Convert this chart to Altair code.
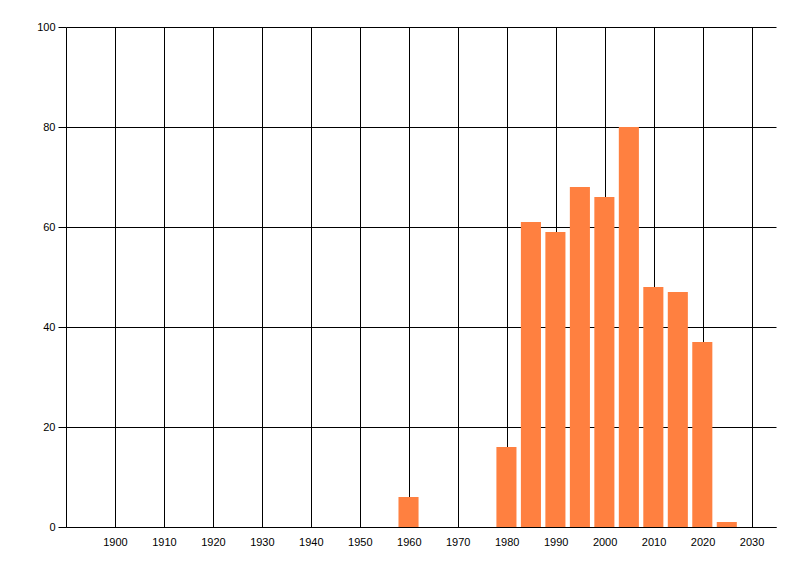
import altair as alt
import pandas as pd

years = [1960, 1980, 1985, 1990, 1995, 2000, 2005, 2010, 2015, 2020, 2025]
counts = [6, 16, 61, 59, 68, 66, 80, 48, 47, 37, 1]
x_ticks = list(range(1900, 2031, 10))
y_ticks = [0, 20, 40, 60, 80, 100]

df = pd.DataFrame({"year": years, "count": counts})

FONT = "Liberation Sans"

bars = alt.Chart(df).transform_calculate(
    x0="datum.year - 2.1",
    x1="datum.year + 2.0",
).mark_bar(color="#ff8040", opacity=1).encode(
    x=alt.X(
        "x0:Q",
        scale=alt.Scale(domain=[1890, 2035], nice=False, zero=False, padding=0),
        axis=alt.Axis(
            values=x_ticks,
            format="d",
            title=None,
            grid=True,
            gridColor="black",
            gridOpacity=1,
            gridWidth=1,
            tickSize=0,
            domain=True,
            domainColor="black",
            domainWidth=1,
            labelColor="black",
            labelFont=FONT,
            labelFontSize=11,
            labelPadding=9,
            labelOverlap=False,
        ),
    ),
    x2="x1:Q",
    y=alt.Y(
        "count:Q",
        scale=alt.Scale(domain=[0, 100], nice=False, padding=0),
        axis=alt.Axis(
            values=y_ticks,
            title=None,
            grid=True,
            gridColor="black",
            gridOpacity=1,
            gridWidth=1,
            ticks=True,
            tickSize=8,
            tickColor="black",
            tickWidth=1,
            domain=True,
            domainColor="black",
            domainWidth=1,
            labelColor="black",
            labelFont=FONT,
            labelFontSize=11,
            labelPadding=3,
        ),
    ),
    y2=alt.datum(0),
)

chart = bars.properties(
    width=710,
    height=500,
    autosize=alt.AutoSizeParams(type="none"),
    padding={"left": 58, "top": 19, "right": 8, "bottom": 30},
    background="white",
).configure_view(strokeWidth=0)

chart.save("out.html", embed_options={"renderer": "svg", "actions": False})
